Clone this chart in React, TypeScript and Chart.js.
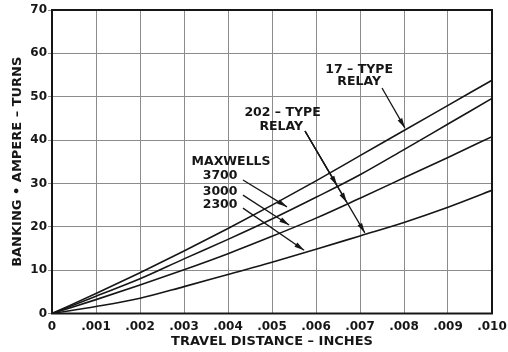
import React, { useEffect, useRef } from "react";
import { Chart, registerables } from "chart.js";

Chart.register(...registerables);

// Travel distance (inches)
const distance = [0, 0.001, 0.002, 0.003, 0.004, 0.005, 0.006, 0.007, 0.008, 0.009, 0.01];
// Banking ampere-turns
const relay17 = [0, 4.6, 9.4, 14.4, 19.6, 25.0, 30.6, 36.4, 42.2, 48.0, 53.8];
const maxwells3700 = [0, 4.0, 8.0, 12.6, 17.1, 21.8, 26.8, 32.0, 37.8, 43.7, 49.6];
const maxwells3000 = [0, 3.2, 6.6, 10.1, 13.8, 17.8, 22.0, 26.6, 31.3, 36.0, 40.8];
const maxwells2300 = [0, 1.6, 3.5, 6.2, 9.0, 11.8, 14.8, 17.9, 21.0, 24.5, 28.4];

const xTitle = "TRAVEL DISTANCE – INCHES";
const yTitle = "BANKING • AMPERE – TURNS";

// Annotation labels in data coordinates
const noteTexts = ["17 – TYPE", "RELAY", "202 – TYPE", "RELAY", "MAXWELLS", "3700", "3000", "2300"];
const noteX = [0.00698, 0.00698, 0.00524, 0.00521, 0.00407, 0.00382, 0.00382, 0.00382];
const noteY = [56.2, 53.4, 46.2, 43.0, 34.9, 31.7, 28.0, 25.0];

// Arrows in data coordinates: start x, start y, end x, end y
const arrowX1 = [0.0075, 0.00575, 0.00575, 0.00575, 0.00434, 0.00434, 0.00434];
const arrowY1 = [52.0, 42.1, 42.1, 42.1, 30.8, 27.3, 24.3];
const arrowX2 = [0.00802, 0.00648, 0.0067, 0.00711, 0.00534, 0.00539, 0.00573];
const arrowY2 = [42.8, 29.5, 25.6, 18.6, 24.6, 20.4, 14.6];

const FONT = "'DejaVu Sans', sans-serif";
const INK = "#161616";

const toPoints = (ys: number[]) => distance.map((x, i) => ({ x, y: ys[i] }));

const annotationPlugin = {
  id: "annotations",
  afterDatasetsDraw(chart: any) {
    const { ctx, chartArea, scales } = chart;
    const xs = scales.x;
    const ys = scales.y;
    ctx.save();
    // frame
    ctx.strokeStyle = INK;
    ctx.lineWidth = 2;
    ctx.strokeRect(chartArea.left, chartArea.top, chartArea.right - chartArea.left, chartArea.bottom - chartArea.top);
    // texts
    ctx.fillStyle = INK;
    ctx.font = `bold 12.5px ${FONT}`;
    ctx.textAlign = "center";
    ctx.textBaseline = "middle";
    noteTexts.forEach((t, i) => {
      ctx.fillText(t, xs.getPixelForValue(noteX[i]), ys.getPixelForValue(noteY[i]));
    });
    // arrows
    ctx.lineWidth = 1.3;
    arrowX1.forEach((_, i) => {
      const x1 = xs.getPixelForValue(arrowX1[i]);
      const y1 = ys.getPixelForValue(arrowY1[i]);
      const x2 = xs.getPixelForValue(arrowX2[i]);
      const y2 = ys.getPixelForValue(arrowY2[i]);
      ctx.beginPath();
      ctx.moveTo(x1, y1);
      ctx.lineTo(x2, y2);
      ctx.stroke();
      const a = Math.atan2(y2 - y1, x2 - x1);
      const len = 10;
      const hw = 2.6;
      const bx = x2 - len * Math.cos(a);
      const by = y2 - len * Math.sin(a);
      ctx.beginPath();
      ctx.moveTo(x2, y2);
      ctx.lineTo(bx + hw * Math.sin(a), by - hw * Math.cos(a));
      ctx.lineTo(bx - hw * Math.sin(a), by + hw * Math.cos(a));
      ctx.closePath();
      ctx.fill();
    });
    ctx.restore();
  },
};

export default function App() {
  const ref = useRef<HTMLCanvasElement | null>(null);
  useEffect(() => {
    if (!ref.current) return;
    const lineStyle = {
      borderColor: INK,
      borderWidth: 1.6,
      pointRadius: 0,
      fill: false,
      cubicInterpolationMode: "monotone" as const,
    };
    const chart = new Chart(ref.current, {
      type: "line",
      data: {
        datasets: [
          { label: "17-Type Relay", data: toPoints(relay17), ...lineStyle },
          { label: "3700 Maxwells", data: toPoints(maxwells3700), ...lineStyle },
          { label: "3000 Maxwells", data: toPoints(maxwells3000), ...lineStyle },
          { label: "2300 Maxwells", data: toPoints(maxwells2300), ...lineStyle },
        ],
      },
      options: {
        responsive: false,
        animation: false,
        devicePixelRatio: 1,
        layout: { padding: { left: 0, right: 0, top: 10, bottom: 0 } },
        plugins: { legend: { display: false }, tooltip: { enabled: false } },
        scales: {
          x: {
            type: "linear",
            min: 0,
            max: 0.01,
            ticks: {
              stepSize: 0.001,
              autoSkip: false,
              maxRotation: 0,
              padding: 6,
              color: INK,
              font: { family: FONT, size: 12, weight: "bold" },
              callback: (v: any) => {
                const n = Math.round(Number(v) * 1000);
                return n === 0 ? "0" : "." + String(n).padStart(3, "0");
              },
            },
            grid: { color: "#8c8c8c", lineWidth: 1, drawTicks: false },
            border: { display: false },
            title: {
              display: true,
              text: xTitle,
              color: INK,
              font: { family: FONT, size: 13, weight: "bold" },
              padding: { top: 0, bottom: 3 },
            },
            afterFit: (s: any) => {
              s.height = 38.5;
              s.paddingLeft = 0;
              s.paddingRight = 16;
            },
          },
          y: {
            min: 0,
            max: 70,
            ticks: {
              stepSize: 10,
              padding: 1,
              color: INK,
              font: { family: FONT, size: 12, weight: "bold" },
            },
            grid: { color: "#8c8c8c", lineWidth: 1, tickLength: 4 },
            border: { display: false },
            title: {
              display: true,
              text: yTitle,
              color: INK,
              font: { family: FONT, size: 13, weight: "bold" },
              padding: { top: 10, bottom: 0 },
            },
            afterFit: (s: any) => {
              s.width = 52;
            },
          },
        },
      } as any,
      plugins: [annotationPlugin],
    });
    return () => chart.destroy();
  }, []);
  return (
    <div style={{ position: "absolute", left: 0, top: 0, width: 508, height: 352, background: "#fff" }}>
      <canvas ref={ref} width={508} height={352} />
    </div>
  );
}
